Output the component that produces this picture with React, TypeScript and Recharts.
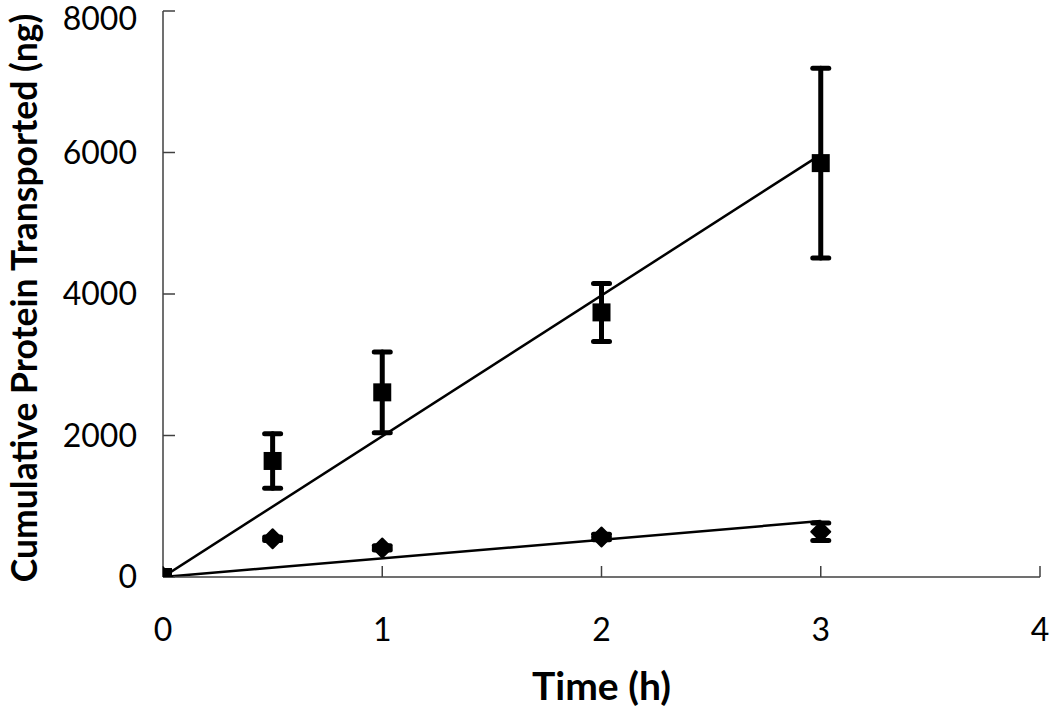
import React from 'react';
import {
  ComposedChart, Scatter, Line, XAxis, YAxis, ErrorBar, Label,
} from 'recharts';

const times = [0, 0.5, 1, 2, 3];
const squareMean = [0, 1640, 2610, 3740, 5850];
const squareErr = [0, 385, 570, 410, 1340];
const diamondMean = [0, 540, 410, 565, 640];
const diamondErr = [0, 25, 30, 40, 125];

const fitX = [0, 3];
const squareFit = [0, 5970];
const diamondFit = [0, 790];

const xTicks = [0, 1, 2, 3, 4];
const yTicks = [0, 2000, 4000, 6000, 8000];

const squareData = times.map((x, i) => ({ x, y: squareMean[i], e: squareErr[i] }));
const diamondData = times.map((x, i) => ({ x, y: diamondMean[i], e: diamondErr[i] }));
const squareFitData = fitX.map((x, i) => ({ x, y: squareFit[i] }));
const diamondFitData = fitX.map((x, i) => ({ x, y: diamondFit[i] }));

const FONT = "Lato, 'Open Sans', sans-serif";

const SquareShape = (props: any) => {
  const { cx, cy } = props;
  if (cx == null || cy == null) return null;
  const s = 18;
  return <rect x={cx - s / 2} y={cy - s / 2} width={s} height={s} fill="#000" />;
};

const DiamondShape = (props: any) => {
  const { cx, cy } = props;
  if (cx == null || cy == null) return null;
  const r = 9.5;
  return (
    <polygon
      points={`${cx},${cy - r} ${cx + r},${cy} ${cx},${cy + r} ${cx - r},${cy}`}
      fill="#000"
      stroke="#000"
      strokeWidth={2}
      strokeLinejoin="round"
    />
  );
};

export default function App() {
  return (
    <div style={{ position: 'absolute', left: 0, top: 0, width: 1050, height: 708, background: '#fff' }}>
      <ComposedChart
        width={1050}
        height={708}
        margin={{ top: 11, right: 10, bottom: 0, left: 0 }}
        style={{ fontFamily: FONT }}
      >
        <XAxis
          type="number"
          dataKey="x"
          domain={[0, 4]}
          ticks={xTicks}
          allowDataOverflow
          height={131}
          tickSize={-11}
          tickMargin={52}
          tick={{ fill: '#000', fontSize: 32, fontFamily: FONT }}
          axisLine={{ stroke: '#404040', strokeWidth: 1.5 }}
          tickLine={{ stroke: '#404040', strokeWidth: 1.5 }}
        >
          <Label
            value="Time (h)"
            position="center"
            dy={44}
            style={{ fontSize: 39, fontWeight: 700, fill: '#000', fontFamily: FONT }}
          />
        </XAxis>
        <YAxis
          type="number"
          domain={[0, 8000]}
          ticks={yTicks}
          allowDataOverflow
          width={163}
          tickSize={-12}
          tickMargin={38}
          tick={{ fill: '#000', fontSize: 32, fontFamily: FONT }}
          axisLine={{ stroke: '#404040', strokeWidth: 1.5 }}
          tickLine={{ stroke: '#404040', strokeWidth: 1.5 }}
        >
          <Label
            value="Cumulative Protein Transported (ng)"
            angle={-90}
            position="center"
            dx={-57}
            dy={4}
            style={{ fontSize: 35.5, fontWeight: 700, fill: '#000', fontFamily: FONT }}
          />
        </YAxis>
        <Line
          data={squareFitData}
          dataKey="y"
          type="linear"
          stroke="#000"
          strokeWidth={2.5}
          dot={false}
          activeDot={false}
          isAnimationActive={false}
        />
        <Line
          data={diamondFitData}
          dataKey="y"
          type="linear"
          stroke="#000"
          strokeWidth={2.5}
          dot={false}
          activeDot={false}
          isAnimationActive={false}
        />
        <Scatter data={diamondData} dataKey="y" shape={DiamondShape} isAnimationActive={false}>
          <ErrorBar dataKey="e" direction="y" width={8} stroke="#000" strokeWidth={5} strokeLinecap="round" />
        </Scatter>
        <Scatter data={squareData} dataKey="y" shape={SquareShape} isAnimationActive={false}>
          <ErrorBar dataKey="e" direction="y" width={8} stroke="#000" strokeWidth={5} strokeLinecap="round" />
        </Scatter>
      </ComposedChart>
    </div>
  );
}
